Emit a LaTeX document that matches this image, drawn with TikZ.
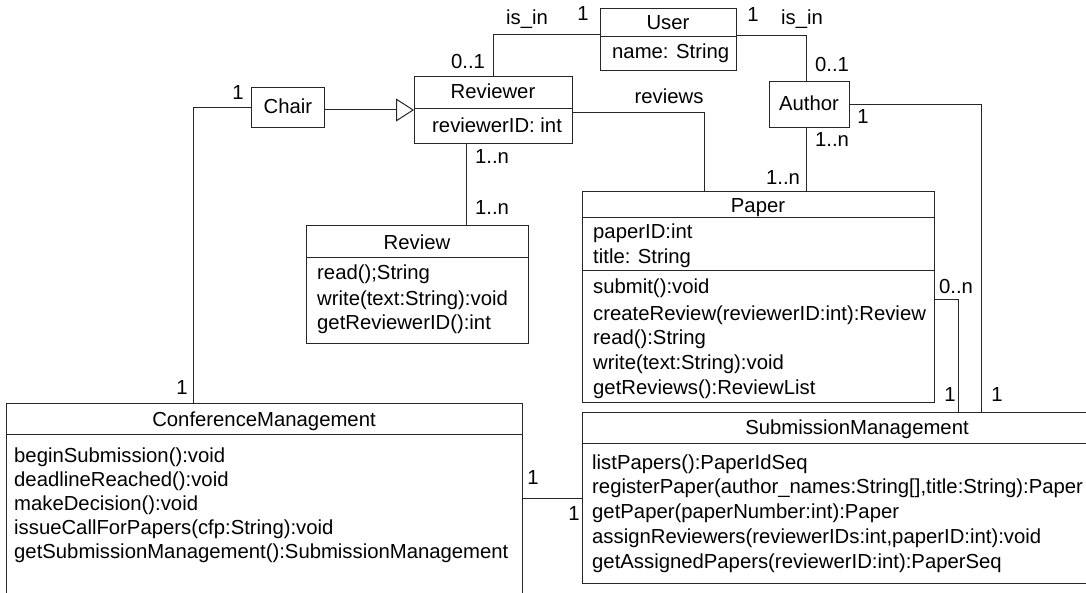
\documentclass[tikz,border=0pt]{standalone}
\usepackage{fontspec}
\setmainfont{Liberation Sans}
\usetikzlibrary{arrows.meta}
\begin{document}
\begin{tikzpicture}[x=1pt,y=-1pt,
  every node/.style={font=\fontsize{20.3}{24}\selectfont},
  cls/.style={draw=black!85, line width=1pt, rectangle, inner sep=0pt, anchor=north west},
  txt/.style={inner sep=0pt, anchor=base west},
  ttl/.style={inner sep=0pt, anchor=base},
  lbl/.style={inner sep=0pt, anchor=base},
  conn/.style={draw=black!85, line width=1pt},
  sepline/.style={draw=black!85, line width=1pt}]
\useasboundingbox (0,0) rectangle (1086,593);
\clip (0,0) rectangle (1086,593);

% ---------- class boxes ----------
\node[cls, minimum width=136pt, minimum height=62pt] (user) at (600,8) {};
\node[cls, minimum width=158pt, minimum height=67pt] (reviewer) at (414,76) {};
\node[cls, minimum width=73pt, minimum height=40pt] (chair) at (251,87) {};
\node[cls, minimum width=80pt, minimum height=46pt] (author) at (769,81) {};
\node[cls, minimum width=222pt, minimum height=118pt] (review) at (306,225) {};
\node[cls, minimum width=352pt, minimum height=211pt] (paper) at (582,191) {};
\node[cls, minimum width=516pt, minimum height=240pt] (cm) at (6,403) {};
\node[cls, minimum width=550pt, minimum height=171pt] (sm) at (582,412) {};

% ---------- compartments ----------
\draw[sepline] ([yshift=-29pt]user.north west) -- ([yshift=-29pt]user.north east);
\draw[sepline] ([yshift=-33pt]reviewer.north west) -- ([yshift=-33pt]reviewer.north east);
\draw[sepline] ([yshift=-33pt]review.north west) -- ([yshift=-33pt]review.north east);
\draw[sepline] ([yshift=-27pt]paper.north west) -- ([yshift=-27pt]paper.north east);
\draw[sepline] ([yshift=-80pt]paper.north west) -- ([yshift=-80pt]paper.north east);
\draw[sepline] ([yshift=-31pt]cm.north west) -- ([yshift=-31pt]cm.north east);
\draw[sepline] ([yshift=-31pt]sm.north west) -- ([yshift=-31pt]sm.north east);

% ---------- texts ----------
\node[ttl] (tUser) at (668,30) {User};
\node[txt] (aUser) at (612,59) {name: String};
\node[ttl] (tReviewer) at (493,99) {Reviewer};
\node[txt] (aReviewer) at (432,133) {reviewerID: int};
\node[ttl] (tChair) at (288,114) {Chair};
\node[ttl] (tAuthor) at (809,111) {Author};

\node[ttl] (tReview) at (417,250) {Review};
\node[txt] (r1) at (317,280) {read();String};
\node[txt] (r2) at (317,306) {write(text:String):void};
\node[txt] (r3) at (317,330) {getReviewerID():int};

\node[ttl] (tPaper) at (758,213) {Paper};
\node[txt] (pa1) at (593,239) {paperID:int};
\node[txt] (pa2) at (593,264) {title: String};
\node[txt] (pm1) at (593,294) {submit():void};
\node[txt] (pm2) at (593,320) {createReview(reviewerID:int):Review};
\node[txt] (pm3) at (593,344) {read():String};
\node[txt] (pm4) at (593,369) {write(text:String):void};
\node[txt] (pm5) at (593,394) {getReviews():ReviewList};

\node[ttl] (tCM) at (264,426) {ConferenceManagement};
\node[txt] (c1) at (14,462) {beginSubmission():void};
\node[txt] (c2) at (14,486) {deadlineReached():void};
\node[txt] (c3) at (14,510) {makeDecision():void};
\node[txt] (c4) at (14,534) {issueCallForPapers(cfp:String):void};
\node[txt] (c5) at (14,558) {getSubmissionManagement():SubmissionManagement};

\node[ttl] (tSM) at (857,434) {SubmissionManagement};
\node[txt] (s1) at (592,469) {listPapers():PaperIdSeq};
\node[txt] (s2) at (592,493) {registerPaper(author\_names:String[],title:String):Paper};
\node[txt] (s3) at (592,518) {getPaper(paperNumber:int):Paper};
\node[txt] (s4) at (592,543) {assignReviewers(reviewerIDs:int,paperID:int):void};
\node[txt] (s5) at (592,568) {getAssignedPapers(reviewerID:int):PaperSeq};

% ---------- connectors ----------
\draw[conn, -{Triangle[open, length=18pt, width=23pt]}] (reviewer.west -| chair.east) -- (reviewer.west);
\draw[conn] (chair.west) -| ([xshift=187pt]cm.north west);
\draw[conn] ([yshift=5pt]user.west) -| (reviewer.north);
\draw[conn] ([yshift=4pt]user.east) -| ([xshift=-3pt]author.north);
\draw[conn] ([xshift=-3pt]author.south) -- ([xshift=-3pt]author.south |- paper.north);
\draw[conn] (author.east) -| ([xshift=399pt]sm.north west);
\draw[conn] ([yshift=-2.5pt]reviewer.east) -| ([xshift=122pt]paper.north west);
\draw[conn] ([xshift=-27pt]reviewer.south) -- ([xshift=-27pt]reviewer.south |- review.north);
\draw[conn] ([yshift=-2.5pt]paper.east) -| ([xshift=376pt]sm.north west);
\draw[conn] (sm.west -| cm.east) -- (sm.west);

% ---------- multiplicities and association names ----------
\node[lbl] (m1) at (238,100) {1};
\node[lbl] (m2) at (182,394) {1};
\node[lbl] (n1) at (527,25) {is\_in};
\node[lbl] (m3) at (583,21) {1};
\node[lbl] (m4) at (468,69) {0..1};
\node[lbl] (m5) at (753,22) {1};
\node[lbl] (n2) at (802,25) {is\_in};
\node[lbl] (m6) at (832,72) {0..1};
\node[lbl] (n3) at (669,104) {reviews};
\node[lbl] (m7) at (863,124) {1};
\node[lbl] (m8) at (832,147) {1..n};
\node[lbl] (m9) at (783,185) {1..n};
\node[lbl] (m10) at (492,164) {1..n};
\node[lbl] (m11) at (492,215) {1..n};
\node[lbl] (m12) at (956,294) {0..n};
\node[lbl] (m13) at (950,401) {1};
\node[lbl] (m14) at (997,401) {1};
\node[lbl] (m15) at (533,484) {1};
\node[lbl] (m16) at (574,520) {1};
\end{tikzpicture}
\end{document}
